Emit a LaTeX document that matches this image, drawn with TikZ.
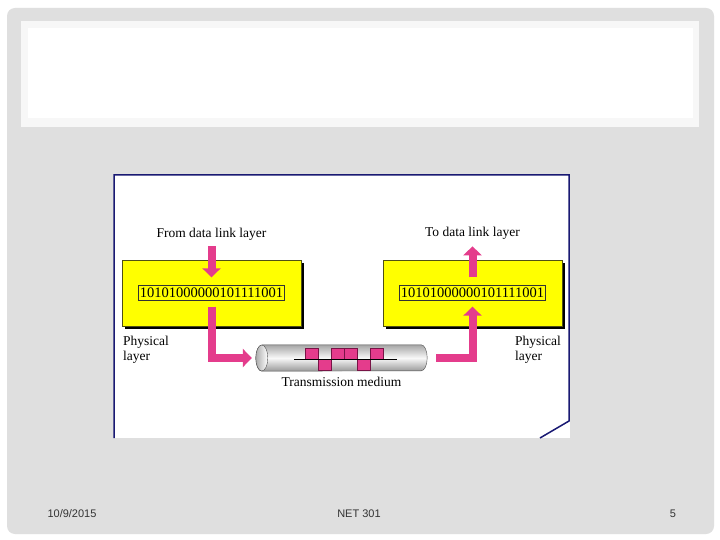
\documentclass[tikz,border=0pt]{standalone}
\usepackage{fontspec}
\setmainfont{Liberation Serif}
\newfontfamily\footfont{Liberation Sans}
\usepackage{xcolor}
\usetikzlibrary{arrows.meta,positioning,shadows}

\definecolor{slidegray}{RGB}{223,223,223}
\definecolor{titlewhite}{RGB}{247,247,247}
\definecolor{framenavy}{RGB}{25,25,115}
\definecolor{boxyellow}{RGB}{255,255,0}
\definecolor{arrowpink}{RGB}{228,60,140}
\definecolor{pinkedge}{RGB}{120,20,70}
\definecolor{yedge}{RGB}{80,80,20}

\begin{document}
\begin{tikzpicture}[x=1pt, y=-1pt,
    ybox/.style={rectangle, draw=yedge, fill=boxyellow, minimum width=179pt, minimum height=66pt, inner sep=0pt,
        drop shadow={shadow xshift=3pt, shadow yshift=-3pt, fill=black, opacity=1}},
    bits/.style={rectangle, draw=black!80, fill=boxyellow, font=\fontsize{14.5}{16}\selectfont, inner xsep=1.5pt, inner ysep=0pt, minimum height=15pt},
    lbl/.style={font=\fontsize{13.5}{15}\selectfont, inner sep=0pt, align=left},
    pinkarrow/.style={draw=arrowpink, line width=8pt, line join=miter, -{Triangle[length=9pt, width=18pt]}},
    pulse/.style={fill=arrowpink, draw=pinkedge, line width=0.6pt},
    foot/.style={font=\footfont\fontsize{11}{13}\selectfont, text=black!80, inner sep=0pt}
]
\useasboundingbox (0,0) rectangle (720,540);

% Slide
\fill[white] (0,0) rectangle (720,540);
\fill[slidegray, rounded corners=8pt] (7,8) rectangle (714,534);
\fill[titlewhite] (21,21) rectangle (699,127);
\fill[white] (28,28) rectangle (693,118);

% Figure frame
\fill[white] (114,174) rectangle (570,438);
\draw[framenavy, line width=1.5pt] (114,438) -- (114,175) -- (569,175) -- (569,421) -- (540,438);

% Sender side
\node[ybox] (yL) at (211.5,293) {};
\node[bits] (bitsL) at (yL) {10101000000101111001};
\node[lbl] (fromlbl) at (211.5,234) {From data link layer};
\node[lbl, anchor=north west] (physL) at (123,336) {Physical\\layer};

% Receiver side
\node[ybox] (yR) at (472.5,293) {};
\node[bits] (bitsR) at (yR) {10101000000101111001};
\node[lbl] (tolbl) at (472.5,233) {To data link layer};
\node[lbl, anchor=north west] (physR) at (515,336) {Physical\\layer};

% Transmission medium
\node[minimum width=171pt, minimum height=26pt, inner sep=0pt] (cable) at (341.5,358) {};
\shade[top color=gray!70, bottom color=gray!80, middle color=gray!5, draw=black!70]
    ([xshift=6pt]cable.north west) -- ([xshift=-6pt]cable.north east)
    arc[start angle=90, end angle=-90, x radius=6pt, y radius=13pt]
    -- ([xshift=6pt]cable.south west)
    arc[start angle=270, end angle=90, x radius=6pt, y radius=13pt] -- cycle;
\shade[left color=gray!65, right color=white, draw=black!70]
    ([xshift=6pt]cable.west) ellipse[x radius=6pt, y radius=13pt];
\foreach \x/\s in {305/1, 318/-1, 331/1, 344/1, 357/-1, 370/1}
    \draw[pulse] (\x,359) rectangle (\x+13,359-11*\s);
\draw[black, line width=0.8pt] (294,359) -- (397,359);
\node[lbl] (medlbl) at (341.5,382) {Transmission medium};

% Arrows
\draw[pinkarrow, shorten <=6pt, shorten >=8pt] (fromlbl.south) -- (bitsL.north);
\draw[pinkarrow, shorten <=6pt, shorten >=4pt] (bitsL.south) |- (cable.west);
\draw[pinkarrow, shorten <=9pt, shorten >=6pt] (cable.east) -| (bitsR.south);
\draw[pinkarrow, shorten <=8pt, shorten >=7pt] (bitsR.north) -- (tolbl.south);

% Footer
\node[foot] (date) at (72,514) {10/9/2015};
\node[foot] (course) at (359,514) {NET 301};
\node[foot] (page) at (673,514) {5};

\end{tikzpicture}
\end{document}
